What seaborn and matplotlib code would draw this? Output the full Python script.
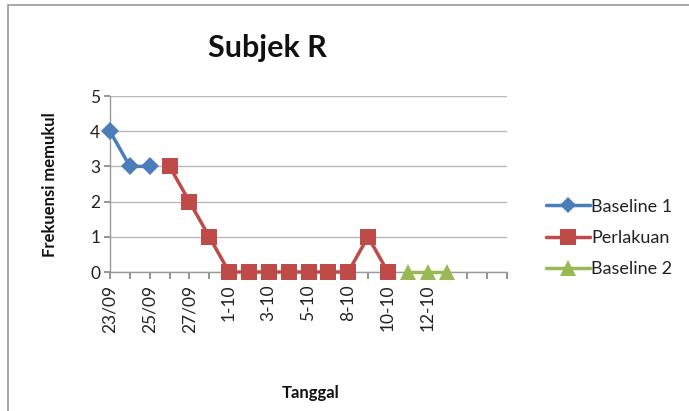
import matplotlib
matplotlib.use('Agg')
import matplotlib.pyplot as plt
import numpy as np
import pandas as pd
import seaborn as sns
from matplotlib.patches import Rectangle

# Chart data
tanggal = ['23/09', '24/09', '25/09', '26/09', '27/09', '28/09', '1-10', '2-10',
           '3-10', '4-10', '5-10', '6-10', '8-10', '9-10', '10-10', '11-10',
           '12-10', '13-10', '', '', '']
baseline1 = [4, 3, 3]
perlakuan = [3, 2, 1, 0, 0, 0, 0, 0, 0, 0, 1, 0]
baseline2 = [0, 0, 0]
fase_names = ['Baseline 1', 'Perlakuan', 'Baseline 2']

# Build a long table; each phase follows the previous one on the category axis
_rows = []
_start = 0
for _name, _vals in zip(fase_names, [baseline1, perlakuan, baseline2]):
    for _i, _v in enumerate(_vals):
        _rows.append({'pos': _start + _i, 'tanggal': tanggal[_start + _i],
                      'frekuensi': _v, 'fase': _name})
    _start += len(_vals)
df = pd.DataFrame(_rows)

sns.set_theme(style='white')
plt.rcParams['font.family'] = ['Lato', 'DejaVu Sans']

colors = {'Baseline 1': '#4A7EBB', 'Perlakuan': '#BE4B48', 'Baseline 2': '#98B954'}
markers = {'Baseline 1': 'D', 'Perlakuan': 's', 'Baseline 2': '^'}
msizes = {'Baseline 1': 9, 'Perlakuan': 12, 'Baseline 2': 12}

fig = plt.figure(figsize=(6.89, 4.11), dpi=100)
ax = fig.add_axes([110 / 689, 139 / 411, 397 / 689, 176 / 411])

for _name in fase_names:
    _d = df[df['fase'] == _name]
    sns.lineplot(data=_d, x='pos', y='frekuensi', ax=ax, color=colors[_name],
                 marker=markers[_name], markersize=msizes[_name],
                 markeredgewidth=0, linewidth=2.5, label=_name, zorder=3,
                 clip_on=False)

ax.set_xlim(0, len(tanggal) - 1)
ax.set_ylim(0, 5)
ax.set_yticks(range(0, 6))
ax.set_xticks(range(len(tanggal)))
ax.set_xticklabels([t if i % 2 == 0 else '' for i, t in enumerate(tanggal)],
                   rotation=90, fontsize=12.5, color='#222222')
ax.tick_params(axis='y', labelsize=12.5, labelcolor='#222222', length=4,
               color='#888888', direction='out', left=True, pad=3)
ax.tick_params(axis='x', length=5, color='#888888', direction='out', bottom=True, pad=4)
ax.grid(axis='y', color='#B8B8B8', linewidth=1)
ax.grid(axis='x', visible=False)
for _s in ['top', 'right']:
    ax.spines[_s].set_visible(False)
for _s in ['left', 'bottom']:
    ax.spines[_s].set_color('#999999')
    ax.spines[_s].set_linewidth(1)
ax.set_axisbelow(True)
ax.set_xlabel('')
ax.set_ylabel('')

fig.text(50 / 689, 1 - 185 / 411, 'Frekuensi memukul', rotation=90, ha='center',
         va='center', fontsize=12, fontweight='bold', color='#111111')
fig.text(311 / 689, 1 - 393 / 411, 'Tanggal', ha='center', va='center',
         fontsize=12, fontweight='bold', color='#111111')
fig.text(267 / 689, 1 - 48 / 411, 'Subjek R', ha='center', va='center',
         fontsize=22, fontweight='bold', color='#111111')

leg = ax.legend(loc='center left', bbox_to_anchor=(530 / 689, 1 - 238 / 411),
                bbox_transform=fig.transFigure, frameon=False, fontsize=13,
                handlelength=2.4, handletextpad=0.1, labelspacing=0.85,
                labelcolor='#222222')
for _h in leg.legend_handles:
    _h.set_markersize(_h.get_markersize() * 0.95)

# Chart border
fig.patches.append(Rectangle((8 / 689, -0.01), 1.0, 1 - 5 / 411 + 0.01,
                             transform=fig.transFigure, fill=False,
                             edgecolor='#9A9A9A', linewidth=1.2))

fig.savefig('out.png', dpi=100)
